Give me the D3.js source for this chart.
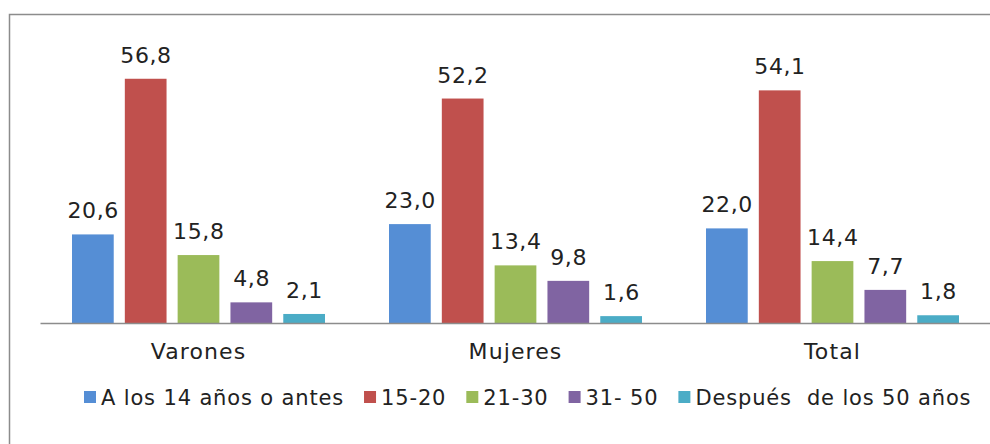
<!DOCTYPE html>
<html>
<head>
<meta charset="utf-8">
<script src="https://cdn.jsdelivr.net/npm/d3@7"></script>
<style>
  body { margin: 0; background: #fff; }
  svg { display: block; font-family: "DejaVu Sans", sans-serif; }
</style>
</head>
<body>
<div id="chart"></div>
<script>
// data
var categories = ["Varones", "Mujeres", "Total"];
var series = ["A los 14 años o antes", "15-20", "21-30", "31- 50", "Después  de los 50 años"];
var colors = ["#558ED5", "#C0504D", "#9BBB59", "#8064A2", "#4BACC6"];
var valuesVarones = [20.6, 56.8, 15.8, 4.8, 2.1];
var valuesMujeres = [23.0, 52.2, 13.4, 9.8, 1.6];
var valuesTotal = [22.0, 54.1, 14.4, 7.7, 1.8];

var rows = [valuesVarones, valuesMujeres, valuesTotal];

var width = 990, height = 444;
var margin = {top: 65, right: -1, bottom: 121, left: 40};
var plotW = width - margin.left - margin.right,
    plotH = height - margin.top - margin.bottom;
var textColor = "#222";

var svg = d3.select("#chart").append("svg")
    .attr("width", width)
    .attr("height", height);

// chart border (only top and left visible in the picture)
svg.append("rect")
    .attr("x", 9.5).attr("y", 14.5)
    .attr("width", 1000).attr("height", 500)
    .attr("fill", "none")
    .attr("stroke", "#8c8c8c")
    .attr("stroke-width", 1.5);

var g = svg.append("g")
    .attr("transform", "translate(" + margin.left + "," + margin.top + ")");

var x0 = d3.scaleBand()
    .domain(categories)
    .range([0, plotW]);

var x1 = d3.scaleBand()
    .domain(series)
    .range([32, x0.bandwidth() - 32])
    .paddingInner(0.21);

var y = d3.scaleLinear()
    .domain([0, 60])
    .range([plotH, 0]);

var groups = g.selectAll(".group")
  .data(categories)
  .enter().append("g")
    .attr("class", "group")
    .attr("transform", function (d) { return "translate(" + x0(d) + ",0)"; });

groups.selectAll("rect")
  .data(function (d, i) { return rows[i].map(function (v, j) { return {s: series[j], v: v, c: colors[j]}; }); })
  .enter().append("rect")
    .attr("x", function (d) { return x1(d.s); })
    .attr("y", function (d) { return y(d.v); })
    .attr("width", x1.bandwidth())
    .attr("height", function (d) { return plotH - y(d.v); })
    .attr("fill", function (d) { return d.c; });

groups.selectAll(".val")
  .data(function (d, i) { return rows[i].map(function (v, j) { return {s: series[j], v: v}; }); })
  .enter().append("text")
    .attr("class", "val")
    .attr("x", function (d) { return x1(d.s) + x1.bandwidth() / 2 + 0.3; })
    .attr("y", function (d) { return y(d.v) - 16; })
    .attr("text-anchor", "middle")
    .attr("font-size", 22)
    .attr("letter-spacing", 0.6)
    .attr("fill", textColor)
    .text(function (d) { return d.v.toFixed(1).replace(".", ","); });

// x axis
var xAxis = g.append("g")
    .attr("transform", "translate(0," + plotH + ")")
    .call(d3.axisBottom(x0).tickSize(0).tickPadding(20));
xAxis.select(".domain").attr("stroke", "#8c8c8c").attr("stroke-width", 1.5);
xAxis.selectAll("text")
    .attr("font-size", 22)
    .attr("font-family", "DejaVu Sans, sans-serif")
    .attr("letter-spacing", 1.1)
    .attr("fill", textColor);

// legend
var legend = svg.append("g").attr("transform", "translate(84,397)");
var lx = 0;
series.forEach(function (s, i) {
  var item = legend.append("g").attr("transform", "translate(" + lx + ",0)");
  item.append("rect")
      .attr("x", 0).attr("y", -6)
      .attr("width", 12).attr("height", 12)
      .attr("fill", colors[i]);
  var t = item.append("text")
      .attr("x", 17).attr("y", 8)
      .attr("font-size", 21)
      .attr("letter-spacing", 0.85)
      .attr("fill", textColor)
      .style("white-space", "pre")
      .text(s);
  lx += 17 + t.node().getComputedTextLength() + 20;
});
</script>
</body>
</html>
